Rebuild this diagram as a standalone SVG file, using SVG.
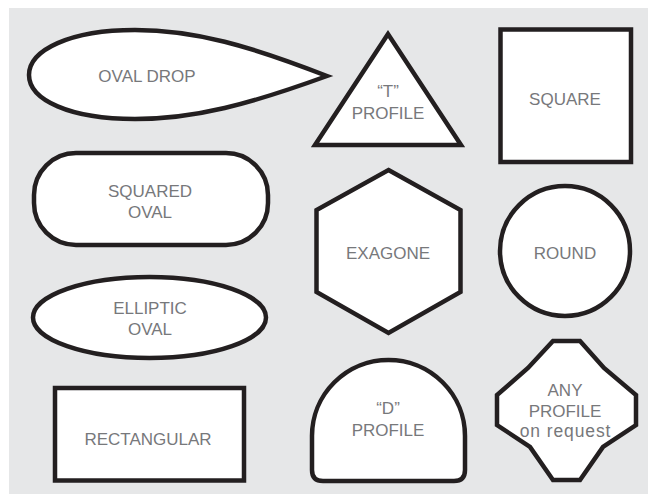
<svg xmlns="http://www.w3.org/2000/svg" width="648" height="494" viewBox="0 0 648 494">
<style>
.s{fill:#ffffff;stroke:#231f20;stroke-width:4.5;stroke-linejoin:miter}
.t{font-family:"Liberation Sans",Arial,sans-serif;font-size:17px;fill:#77787b;text-anchor:middle}
.w{font-size:17.5px;letter-spacing:0.9px}
</style>
<rect x="0" y="0" width="648" height="494" fill="#ffffff"/>
<rect x="9" y="8" width="639" height="486" fill="#e6e7e8"/>
<g id="oval-drop">
<path class="s" d="M327,76 C250,46 195,30 135,30 C70,30 29,50 29,75 C29,100 70,119 135,119 C195,119 250,104 327,76 Z"/>
<text class="t" x="147" y="82">OVAL DROP</text>
</g>
<g id="t-profile">
<polygon class="s" points="388,34 315,145 461,145"/>
<text class="t" x="388" y="97">“T”</text>
<text class="t" x="388" y="119">PROFILE</text>
</g>
<g id="square">
<rect class="s" x="500.5" y="29.5" width="130.5" height="132.5"/>
<text class="t" x="565" y="105">SQUARE</text>
</g>
<g id="squared-oval">
<rect class="s" x="34" y="153" width="234" height="92" rx="42" ry="42"/>
<text class="t" x="150" y="197">SQUARED</text>
<text class="t" x="150" y="218">OVAL</text>
</g>
<g id="exagone">
<polygon class="s" points="388.5,170 460.5,210 460.5,292 388.5,333 316.5,292 316.5,210"/>
<text class="t" x="388" y="259">EXAGONE</text>
</g>
<g id="round">
<circle class="s" cx="565" cy="251" r="65"/>
<text class="t" x="565" y="259">ROUND</text>
</g>
<g id="elliptic-oval">
<ellipse class="s" cx="149.5" cy="317.5" rx="116.5" ry="40.5"/>
<text class="t" x="150" y="314">ELLIPTIC</text>
<text class="t" x="150" y="335">OVAL</text>
</g>
<g id="rectangular">
<rect class="s" x="55" y="388" width="189" height="92.5"/>
<text class="t" x="148" y="445">RECTANGULAR</text>
</g>
<g id="d-profile">
<path class="s" d="M312,470 L312,436 A76.5,76 0 0 1 465,436 L465,470 Q465,481 454,481 L323,481 Q312,481 312,470 Z"/>
<text class="t" x="388" y="414">“D”</text>
<text class="t" x="388" y="436">PROFILE</text>
</g>
<g id="any-profile">
<polygon class="s" points="553,341 580,341 604,368 636,395 636,425 603,447 580,480 553,480 530,447 497,425 497,395 528,368"/>
<text class="t" x="565" y="396">ANY</text>
<text class="t" x="565" y="417">PROFILE</text>
<text class="t w" x="565.5" y="437">on request</text>
</g>
<g id="connectors"/>
</svg>
